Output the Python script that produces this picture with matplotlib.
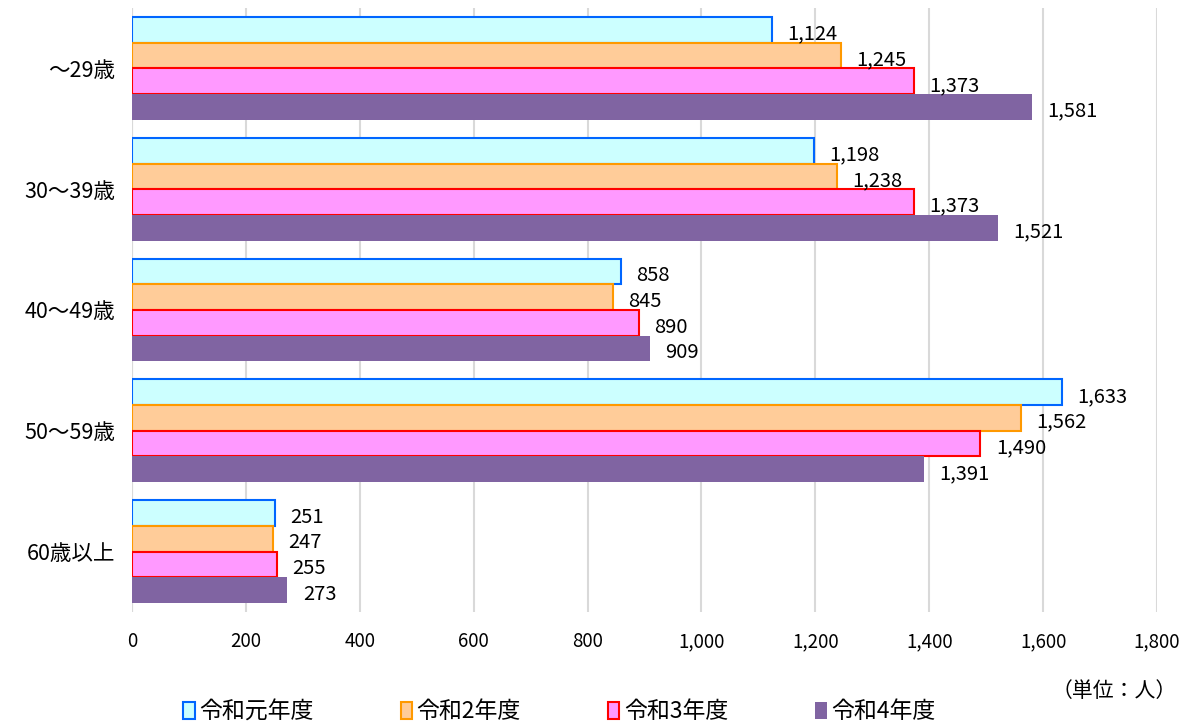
import matplotlib.pyplot as plt
import numpy as np

plt.rcParams['font.family'] = ['Noto Sans CJK JP', 'DejaVu Sans']

# データ
categories = ['～29歳', '30～39歳', '40～49歳', '50～59歳', '60歳以上']
series_names = ['令和元年度', '令和2年度', '令和3年度', '令和4年度']
r1 = [1124, 1198, 858, 1633, 251]
r2 = [1245, 1238, 845, 1562, 247]
r3 = [1373, 1373, 890, 1490, 255]
r4 = [1581, 1521, 909, 1391, 273]
xticks = [0, 200, 400, 600, 800, 1000, 1200, 1400, 1600, 1800]

fills = ['#CCFFFF', '#FFCC99', '#FF99FF', '#8064A2']
edges = ['#0066FF', '#FF9900', '#FF0000', '#8064A2']

fig = plt.figure(figsize=(11.8, 7.26), dpi=100)
ax = fig.add_axes([132 / 1180, 1 - 612 / 726, 1025 / 1180, 604 / 726])

y = np.arange(len(categories))
h = 0.2125
for i, vals in enumerate([r1, r2, r3, r4]):
    pos = y - 1.5 * h + i * h
    lw = 1.5 if i < 3 else 0
    ax.barh(pos, vals, height=h, color=fills[i], edgecolor=edges[i],
            linewidth=lw, label=series_names[i], zorder=3)
    for p, v in zip(pos, vals):
        ax.annotate(f'{v:,}', (v, p), xytext=(11, -3), textcoords='offset points',
                    ha='left', va='center', fontsize=14.5, zorder=4)

ax.set_xlim(0, 1800)
ax.set_ylim(len(categories) - 0.5, -0.5)
ax.set_xticks(xticks)
ax.set_xticklabels([f'{t:,}' for t in xticks], fontsize=13.5)
ax.set_yticks(y)
ax.set_yticklabels(categories, fontsize=15.5)
ax.tick_params(length=0, pad=12)
ax.tick_params(axis='x', pad=14)
ax.grid(axis='x', color='#D9D9D9', linewidth=1.5, zorder=0)
for s in ax.spines.values():
    s.set_visible(False)
ax.axvline(0, color='#D9D9D9', linewidth=1.5, zorder=1)

handles, labels = ax.get_legend_handles_labels()
fig.legend(handles, labels, loc='center', bbox_to_anchor=(0.474, 14 / 726),
           ncol=4, frameon=False, fontsize=16.5, handlelength=0.5, handleheight=0.8,
           handletextpad=0.2, columnspacing=3.8)
fig.text(1177 / 1180, 1 - 691 / 726, '（単位：人）', ha='right', va='center', fontsize=15)

fig.savefig('out.png', dpi=100)
